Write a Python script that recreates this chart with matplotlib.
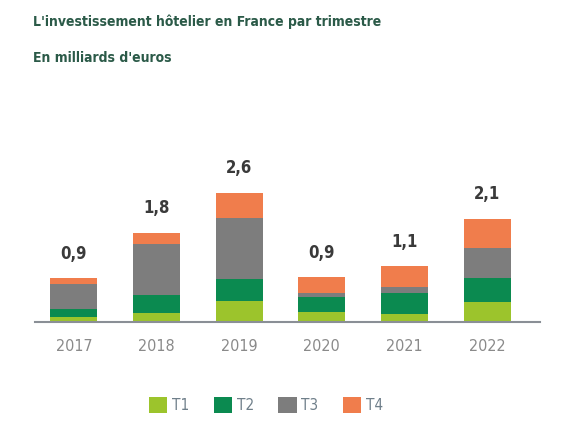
import matplotlib
matplotlib.use('Agg')
import numpy as np
from matplotlib import pyplot as plt
from matplotlib import font_manager as fm
from matplotlib.patches import Patch

years = ['2017', '2018', '2019', '2020', '2021', '2022']
t1 = [0.10, 0.18, 0.42, 0.20, 0.16, 0.40]
t2 = [0.16, 0.37, 0.44, 0.30, 0.42, 0.48]
t3 = [0.50, 1.03, 1.24, 0.08, 0.12, 0.62]
t4 = [0.12, 0.22, 0.50, 0.32, 0.42, 0.58]
totals = ['0,9', '1,8', '2,6', '0,9', '1,1', '2,1']
quarters = ['T1', 'T2', 'T3', 'T4']

colors = ['#9cc42c', '#0b8a50', '#7d7d7d', '#f07d4c']


def find_font(bold):
    # look for a narrow / condensed face among installed fonts
    files = fm.findSystemFonts()
    for key in ['LiberationSansNarrow', 'DejaVuSansCondensed', 'RobotoCondensed', 'OpenSans_Condensed', 'OpenSansCondensed']:
        for f in files:
            name = f.split('/')[-1]
            if key in name.replace('-', '').replace(' ', '') or key in name:
                is_bold = 'Bold' in name and 'Oblique' not in name and 'Italic' not in name
                plain = 'Bold' not in name and 'Oblique' not in name and 'Italic' not in name
                if (bold and is_bold) or (not bold and plain):
                    return fm.FontProperties(fname=f)
    return fm.FontProperties(family='DejaVu Sans', weight='bold' if bold else 'normal')


def main():
    fp = find_font(False)
    fpb = find_font(True)

    fig = plt.figure(figsize=(5.62, 4.25), dpi=100)
    fig.patch.set_facecolor('white')
    ax = fig.add_axes([35 / 562, 103 / 425, 505 / 562, 175 / 425])

    x = np.arange(len(years))
    bottom = np.zeros(len(years))
    for vals, col in zip([t1, t2, t3, t4], colors):
        ax.bar(x, vals, width=0.57, bottom=bottom, color=col, zorder=2)
        bottom += np.array(vals)

    for xi, top, lab in zip(x, bottom, totals):
        ax.text(xi, top + 0.5, lab, ha='center', va='center', fontproperties=fpb,
                fontsize=12, color='#3a3a3a')

    ax.set_xlim(-0.47, 5.64)
    ax.set_ylim(0, 175 / 49.6)
    ax.set_xticks(x)
    ax.set_xticklabels(years)
    for t in ax.get_xticklabels():
        t.set_fontproperties(fp)
        t.set_fontsize(11.5)
        t.set_color('#8a8a8a')
    ax.tick_params(axis='x', length=0, pad=12)
    ax.set_yticks([])
    for s in ['top', 'right', 'left']:
        ax.spines[s].set_visible(False)
    ax.spines['bottom'].set_color('#8a8f96')
    ax.spines['bottom'].set_linewidth(1.5)
    ax.spines['bottom'].set_zorder(3)

    fig.text(33 / 562, 1 - 22 / 425, "L'investissement hôtelier en France par trimestre",
             fontproperties=fpb, fontsize=10, color='#2b5a48', va='center', ha='left')
    fig.text(33 / 562, 1 - 58 / 425, "En milliards d'euros",
             fontproperties=fpb, fontsize=10, color='#2b5a48', va='center', ha='left')

    handles = [Patch(facecolor=c, edgecolor='none') for c in colors]
    legp = fp.copy()
    legp.set_size(11)
    leg = fig.legend(handles, quarters, loc='center', bbox_to_anchor=(266 / 562, 1 - 405 / 425),
                     ncol=4, frameon=False, handlelength=1.2, handleheight=1.2,
                     columnspacing=1.6, handletextpad=0.3, prop=legp)
    for t in leg.get_texts():
        t.set_color('#6f7f8a')

    fig.savefig('out.png', dpi=100)


if __name__ == "__main__":
    main()
